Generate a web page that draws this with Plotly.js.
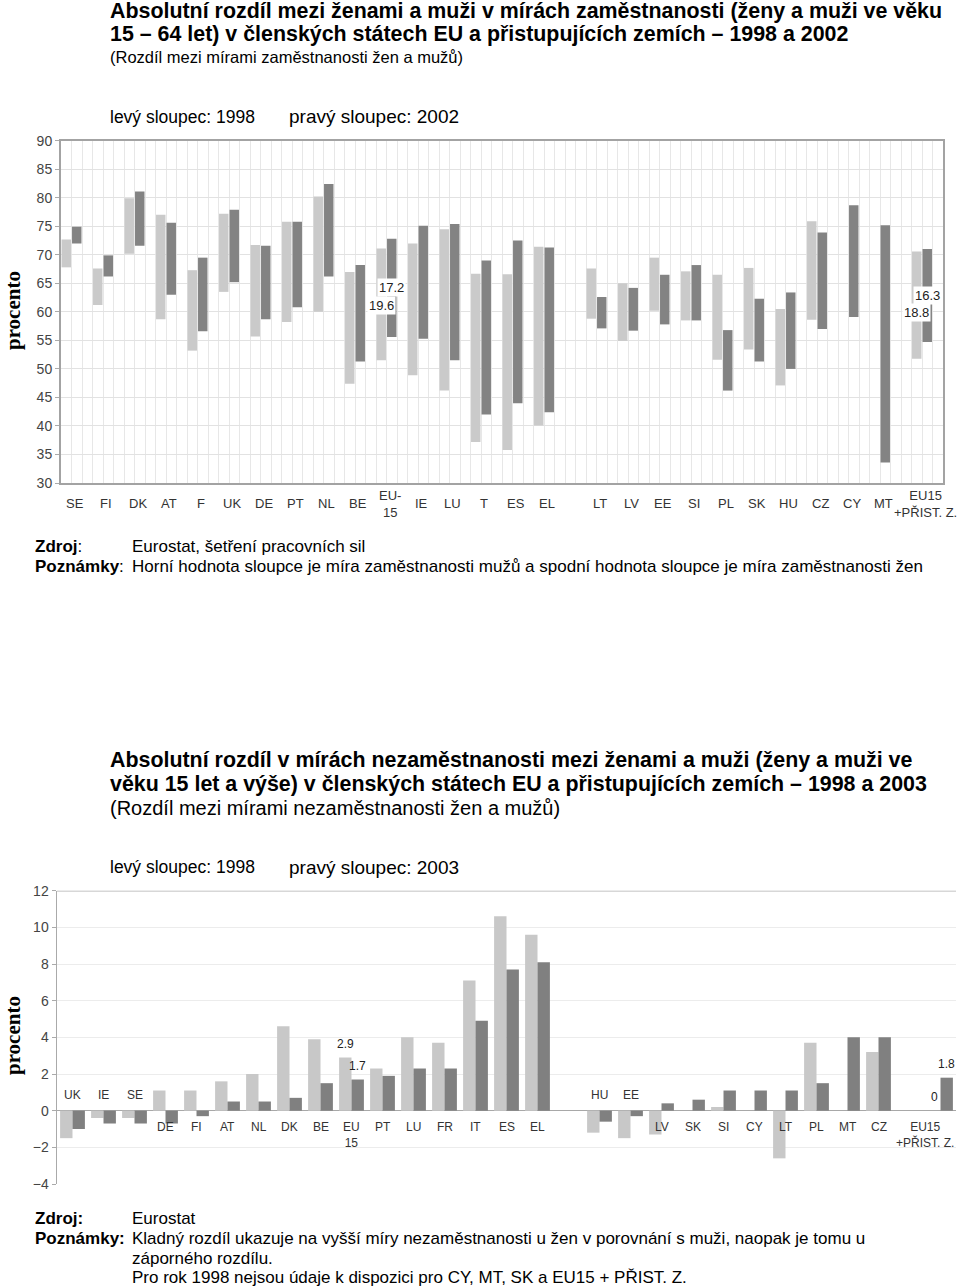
<!DOCTYPE html>
<html>
<head>
<meta charset="utf-8">
<script src="https://cdn.plot.ly/plotly-3.0.1.min.js"></script>
<style>
html,body{margin:0;padding:0;background:#fff;}
#chart{width:960px;height:1288px;}
</style>
</head>
<body>
<div id="chart"></div>
<script>
// ---------- DATA: chart 1 (employment rates, %) ----------
const countries1 = ['SE','FI','DK','AT','F','UK','DE','PT','NL','BE','EU-15','IE','LU','T','ES','EL','LT','LV','EE','SI','PL','SK','HU','CZ','CY','MT','EU15+PŘIST.Z.'];
const labels1 = ['SE','FI','DK','AT','F','UK','DE','PT','NL','BE','EU-<br>15','IE','LU','T','ES','EL','LT','LV','EE','SI','PL','SK','HU','CZ','CY','MT','EU15<br>+PŘIST. Z.'];
const men1998 = [72.7,67.6,79.9,77.0,67.3,77.2,71.7,75.8,80.2,67.0,71.1,72.0,74.5,66.7,66.6,71.4,67.6,65.0,69.5,67.1,66.5,67.7,60.5,75.9,null,null,70.6];
const women1998 = [67.8,61.2,70.2,58.7,53.2,63.5,55.7,58.2,60.0,47.4,51.5,48.9,46.2,37.2,35.8,40.1,58.8,54.9,60.2,58.5,51.6,53.4,47.1,58.6,null,null,51.8];
const men2002 = [74.9,69.9,81.1,75.6,69.5,77.9,71.6,75.8,82.4,68.2,72.8,75.1,75.4,69.0,72.5,71.3,62.6,64.2,66.5,68.2,56.8,62.3,63.4,73.9,78.7,75.2,71.0];
const women2002 = [72.0,66.2,71.6,63.0,56.6,65.2,58.7,60.8,66.2,51.3,55.6,55.3,51.5,42.0,44.0,42.4,57.1,56.7,57.8,58.5,46.2,51.3,50.0,57.0,59.1,33.6,54.7];
const labelled1 = ['EU-15','EU15+PŘIST.Z.'];

// ---------- DATA: chart 2 (unemployment rate difference women - men) ----------
const countries2 = ['UK','IE','SE','DE','FI','AT','NL','DK','BE','EU15','PT','LU','FR','IT','ES','EL','HU','EE','LV','SK','SI','CY','LT','PL','MT','CZ','EU15+PŘIST.Z.'];
const labels2 = ['UK','IE','SE','DE','FI','AT','NL','DK','BE','EU<br>15','PT','LU','FR','IT','ES','EL','HU','EE','LV','SK','SI','CY','LT','PL','MT','CZ','EU15<br>+PŘIST. Z.'];
const diff1998 = [-1.5,-0.4,-0.4,1.1,1.1,1.6,2.0,4.6,3.9,2.9,2.3,4.0,3.7,7.1,10.6,9.6,-1.2,-1.5,-1.3,null,0.2,null,-2.6,3.7,null,3.2,0];
const diff2003 = [-1.0,-0.7,-0.7,-0.7,-0.3,0.5,0.5,0.7,1.5,1.7,1.9,2.3,2.3,4.9,7.7,8.1,-0.6,-0.3,0.4,0.6,1.1,1.1,1.1,1.5,4.0,4.0,1.8];
const labelled2 = ['EU15','EU15+PŘIST.Z.'];

// ---------- layout helpers ----------
const W = 960, H = 1288;
const py = p => 1 - p / H;
const FONT = 'Liberation Sans, Arial, sans-serif';

// chart 1: each country takes 3 sub-slots; extra blank sub-slots before some groups
const gaps1 = {'LT': 2, 'EU15+PŘIST.Z.': 1};
let off = 0;
const pos1 = countries1.map((c, i) => { off += (gaps1[c] || 0); return 3 * i + off; });
const n1 = 3 * countries1.length + off;

// chart 2: one slot per country, blank slots before some groups
const gaps2 = {'HU': 1, 'EU15+PŘIST.Z.': 1};
let off2 = 0;
const pos2 = countries2.map((c, i) => { off2 += (gaps2[c] || 0); return i + off2; });

const LIGHT1 = '#cacaca', DARK1 = '#838383';
const LIGHT2 = '#c8c8c8', DARK2 = '#808080';

const traces = [
  {type:'bar', x: pos1.map(p => p + 0.5), base: women1998,
   y: men1998.map((m, i) => m == null ? null : m - women1998[i]),
   width: 0.9, marker:{color: LIGHT1}, xaxis:'x', yaxis:'y', hoverinfo:'none'},
  {type:'bar', x: pos1.map(p => p + 1.5), base: women2002,
   y: men2002.map((m, i) => m == null ? null : m - women2002[i]),
   width: 0.9, marker:{color: DARK1}, xaxis:'x', yaxis:'y', hoverinfo:'none'},
  {type:'bar', x: pos2, y: diff1998, width: 0.4, offset: -0.4,
   marker:{color: LIGHT2}, xaxis:'x2', yaxis:'y2', hoverinfo:'none'},
  {type:'bar', x: pos2, y: diff2003, width: 0.4, offset: 0,
   marker:{color: DARK2}, xaxis:'x2', yaxis:'y2', hoverinfo:'none'}
];

const ann = [];
function txt(text, xpx, ypx, size, opts) {
  ann.push(Object.assign({text, xref:'paper', yref:'paper', x: xpx / W, y: py(ypx),
    xanchor:'left', yanchor:'middle', showarrow:false,
    font:{family: FONT, size, color:'#000'}}, opts || {}));
}

// ---- chart 1 texts ----
txt('<b>Absolutní rozdíl mezi ženami a muži v mírách zaměstnanosti (ženy a muži ve věku</b>', 108, 11, 21.4);
txt('<b>15 – 64 let) v členských státech EU a přistupujících zemích – 1998 a 2002</b>', 108, 34, 21.4);
txt('(Rozdíl mezi mírami zaměstnanosti žen a mužů)', 108, 57, 16.5);
txt('levý sloupec: 1998', 108, 117, 17.5);
txt('pravý sloupec: 2002', 287, 117, 19);
txt('<b>Zdroj</b>:', 33, 546, 17);
txt('Eurostat, šetření pracovních sil', 130, 546, 17);
txt('<b>Poznámky</b>:', 33, 566, 17);
txt('Horní hodnota sloupce je míra zaměstnanosti mužů a spodní hodnota sloupce je míra zaměstnanosti žen', 130, 566, 17);
txt('<b>procento</b>', 13, 311, 21, {xanchor:'center', textangle:-90, font:{family:'Liberation Serif, Times New Roman, serif', size:21, color:'#000'}});

// chart 1 category labels
countries1.forEach((c, i) => {
  ann.push({text: labels1[i], xref:'x', yref:'paper', x: pos1[i] + 1, y: py(504),
    xanchor:'center', yanchor:'middle', xshift: 3, showarrow:false,
    font:{family: FONT, size:13, color:'#333'}});
});
// chart 1 difference labels
countries1.forEach((c, i) => {
  if (!labelled1.includes(c)) return;
  const midD = (men2002[i] + women2002[i]) / 2;
  const midL = Math.min((men1998[i] + women1998[i]) / 2, midD - 3.0);
  ann.push({text: (men2002[i] - women2002[i]).toFixed(1), xref:'x', yref:'y', x: pos1[i] + 1.5, y: midD,
    xanchor:'center', yanchor:'middle', showarrow:false, bgcolor:'#fff', borderpad:1,
    font:{family: FONT, size:13, color:'#222'}});
  ann.push({text: (men1998[i] - women1998[i]).toFixed(1), xref:'x', yref:'y', x: pos1[i] + 0.5, y: midL,
    xanchor:'center', yanchor:'middle', showarrow:false, bgcolor:'#fff', borderpad:1,
    font:{family: FONT, size:13, color:'#222'}});
});

// ---- chart 2 texts ----
txt('<b>Absolutní rozdíl v mírách nezaměstnanosti mezi ženami a muži (ženy a muži ve</b>', 108, 760, 21.4);
txt('<b>věku 15 let a výše) v členských státech EU a přistupujících zemích – 1998 a 2003</b>', 108, 784, 21.4);
txt('(Rozdíl mezi mírami nezaměstnanosti žen a mužů)', 108, 808, 20);
txt('levý sloupec: 1998', 108, 867, 17.5);
txt('pravý sloupec: 2003', 287, 867, 19);
txt('<b>Zdroj:</b>', 33, 1218, 17);
txt('Eurostat', 130, 1218, 17);
txt('<b>Poznámky:</b>', 33, 1238, 17);
txt('Kladný rozdíl ukazuje na vyšší míry nezaměstnanosti u žen v porovnání s muži, naopak je tomu u', 130, 1238, 17);
txt('záporného rozdílu.', 130, 1258, 17);
txt('Pro rok 1998 nejsou údaje k dispozici pro CY, MT, SK a EU15 + PŘIST. Z.', 130, 1277, 17);
txt('<b>procento</b>', 13, 1036, 21, {xanchor:'center', textangle:-90, font:{family:'Liberation Serif, Times New Roman, serif', size:21, color:'#000'}});

// chart 2 category labels (above zero when all values negative, otherwise below)
countries2.forEach((c, i) => {
  const vals = [diff1998[i], diff2003[i]].filter(v => v != null);
  const allNeg = Math.max(...vals) < 0;
  const last = i === countries2.length - 1;
  ann.push({text: labels2[i], xref:'x2', yref:'y2', x: pos2[i], y: 0,
    xanchor:'center', yanchor: allNeg ? 'bottom' : 'top', yshift: allNeg ? 7 : -7,
    xshift: last ? -16 : 0,
    showarrow:false, font:{family: FONT, size:12, color:'#333'}});
});
// chart 2 value labels
countries2.forEach((c, i) => {
  if (!labelled2.includes(c)) return;
  [[diff1998[i], -0.2], [diff2003[i], 0.2]].forEach(([v, dx]) => {
    if (v == null) return;
    ann.push({text: String(v), xref:'x2', yref:'y2', x: pos2[i] + dx, y: Math.max(v, 0),
      xanchor:'center', yanchor:'bottom', yshift: 5, showarrow:false,
      font:{family: FONT, size:12, color:'#222'}});
  });
});

const layout = {
  width: W, height: H,
  margin:{l:0, r:0, t:0, b:0},
  paper_bgcolor:'#fff', plot_bgcolor:'#fff',
  showlegend:false, barmode:'overlay',
  font:{family: FONT},
  xaxis:{domain:[61/W, 943/W], range:[0, n1], anchor:'y', showgrid:true, dtick:1, tick0:0,
    gridcolor:'#e7e7e7', gridwidth:1, showticklabels:false, ticks:'', zeroline:false,
    showline:true, mirror:true, linecolor:'#a3a3a3', linewidth:2, fixedrange:true},
  yaxis:{domain:[py(483), py(140.7)], range:[30, 90], dtick:5, tick0:30, anchor:'x',
    gridcolor:'#e2e2e2', ticks:'outside', ticklen:4, tickcolor:'#aaa',
    tickfont:{family: FONT, size:14, color:'#444'}, zeroline:false,
    showline:true, mirror:true, linecolor:'#a3a3a3', linewidth:2, fixedrange:true},
  xaxis2:{domain:[57/W, 956/W], range:[-0.5, pos2[pos2.length-1] + 0.5], anchor:'y2',
    showgrid:false, showticklabels:false, ticks:'', zeroline:false, showline:false, fixedrange:true},
  yaxis2:{domain:[py(1184), py(890.7)], range:[-4, 12], dtick:2, tick0:0, anchor:'x2',
    gridcolor:'#ececec', ticks:'outside', ticklen:4, tickcolor:'#aaa',
    tickfont:{family: FONT, size:14, color:'#444'},
    zeroline:true, zerolinecolor:'#a8a8a8', zerolinewidth:1.5,
    showline:true, linecolor:'#aaa', linewidth:1.5, fixedrange:true},
  shapes:[{type:'line', xref:'x2 domain', yref:'y2', x0:0, x1:1, y0:12, y1:12,
    line:{color:'#b0b0b0', width:1.5}}],
  annotations: ann
};

Plotly.newPlot('chart', traces, layout, {staticPlot:true, displayModeBar:false});
</script>
</body>
</html>
